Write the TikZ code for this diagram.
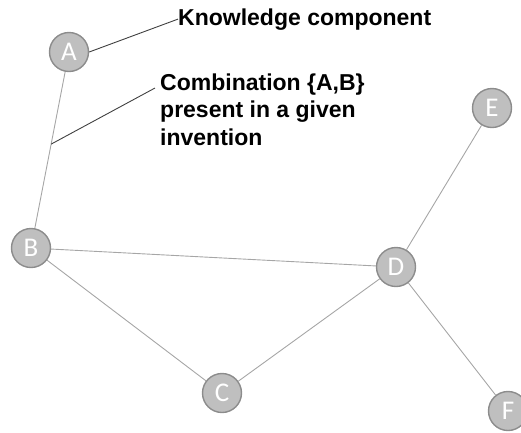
\documentclass[tikz,border=0pt]{standalone}
\usepackage{fontspec}
\newfontfamily\labelfont{Liberation Sans}
\newfontfamily\letterfont{Carlito}
\usetikzlibrary{calc, positioning}
\definecolor{nodegray}{HTML}{BFBFBF}
\definecolor{rimgray}{HTML}{8C8C8C}
\definecolor{edgegray}{HTML}{A6A6A6}
\definecolor{leadgray}{HTML}{404040}

\begin{document}
\begin{tikzpicture}[x=1pt, y=-1pt,
                knot/.style={circle, draw = rimgray, fill = nodegray, line width=1.4pt,
                    minimum size=39pt, inner sep=0pt, text=white,
                    font=\letterfont\fontsize{27}{27}\selectfont},
                link/.style={edgegray, line width=0.9pt},
                lead/.style={leadgray, line width=0.9pt},
                note/.style={inner sep=0pt, align=left,
                    font=\labelfont\bfseries\fontsize{23}{27.5}\selectfont}]
            \useasboundingbox (0,0) rectangle (521,432);
            \node[knot] (A) at (69,52) {A};
            \node[knot] (B) at (31,248) {B};
            \node[knot] (C) at (222,393) {C};
            \node[knot] (D) at (396,267) {D};
            \node[knot] (E) at (492,108) {E};
            \node[knot] (F) at (508,411) {F};
            \foreach \u/\v in {A/B, B/D, B/C, C/D, D/E, D/F}
                \draw[link] (\u) -- (\v);
            % labels
            \node[note, anchor = base west] (kc) at (178,25) {Knowledge component};
            \node[note, anchor = base west] (comb) at (160,145) {Combination \{A,B\}\\ present in a given\\ invention};
            \coordinate (ab) at ($(A)!0.47!(B)$);
            \draw[lead] (A.east) -- (kc.west);
            \draw[lead] (ab) -- ($(comb.base west)+(-5,-57)$);
        \end{tikzpicture}
\end{document}
